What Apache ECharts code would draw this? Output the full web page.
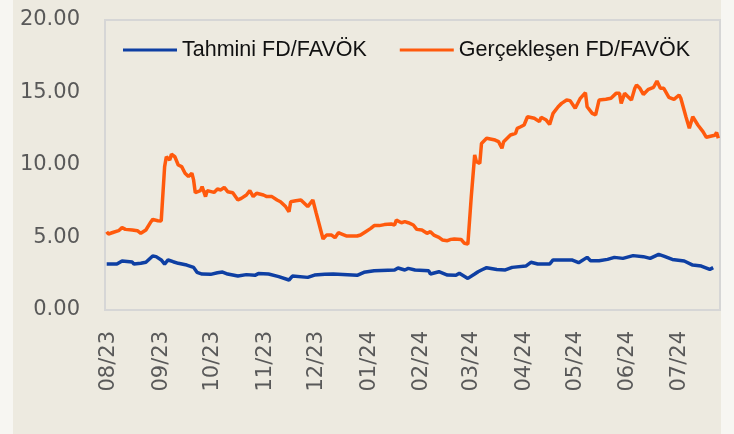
<!DOCTYPE html>
<html>
<head>
    <meta charset="utf-8">
    <script src="https://cdn.jsdelivr.net/npm/echarts@6/dist/echarts.min.js"></script>
    <style>
        html, body { margin: 0; padding: 0; background: #F7F6F2; }
    </style>
</head>
<body>
<div id="main" style="width: 734px;height:434px;"></div>
<script type="text/javascript">

// x tick labels (month/year)
var monthLabels = ['08/23','09/23','10/23','11/23','12/23','01/24','02/24','03/24','04/24','05/24','06/24','07/24'];

// days counted from 1 Aug 2023
var actualDays = [-1,0,3,6,8,10,14,17,19,22,25,26,29,31,33,34,36,37,39,41,43,45,47,49,50,51,54,55,57,58,62,64,66,68,70,73,76,78,81,83,85,87,91,93,96,99,101,104,106,107,110,113,115,117,118,120,121,122,126,128,129,131,133,135,137,140,146,148,151,154,156,159,162,166,168,169,172,174,176,179,181,184,187,189,191,194,196,199,201,203,207,209,211,213,215,216,218,219,222,227,229,231,232,236,239,240,242,244,246,247,250,253,254,257,259,261,264,266,269,271,274,277,280,281,284,286,288,292,295,298,300,301,303,305,307,309,310,312,314,317,320,322,324,326,329,332,335,336,339,341,343,346,349,351,354,356,357,358];
var actualValues = [5.40,5.24,5.36,5.47,5.68,5.56,5.52,5.47,5.29,5.52,6.09,6.25,6.16,6.14,9.89,10.57,10.34,10.74,10.57,10.00,9.89,9.43,9.20,9.43,8.97,8.09,8.23,8.51,7.82,8.23,8.11,8.34,8.28,8.46,8.16,8.09,7.59,7.70,7.93,8.23,7.82,8.05,7.93,7.82,7.82,7.59,7.47,7.13,6.78,7.47,7.54,7.59,7.36,7.13,7.01,7.59,7.63,6.67,4.90,5.17,5.06,5.17,4.99,5.33,5.24,5.10,5.10,5.17,5.40,5.63,5.82,5.82,5.89,5.93,5.86,6.20,6.02,6.09,6.02,5.86,5.56,5.52,5.29,5.40,5.17,5.01,4.83,4.78,4.87,4.90,4.87,4.60,4.55,7.82,10.69,10.23,10.11,11.49,11.84,11.72,11.61,11.15,11.61,12.07,12.18,12.53,12.64,12.76,13.33,13.45,13.22,12.99,13.29,13.10,12.80,13.56,14.02,14.25,14.48,14.44,13.91,14.60,14.99,14.02,13.56,13.45,14.48,14.53,14.60,14.94,14.94,14.25,14.94,14.71,14.48,15.29,15.52,15.29,14.87,15.22,15.36,15.79,15.29,15.29,14.67,14.53,14.83,14.60,13.33,12.53,13.33,12.76,12.30,11.91,12.00,12.05,12.25,11.84];

var estimateDays = [-1,5,8,14,15,19,22,26,28,31,33,35,38,41,46,50,52,55,60,64,67,70,76,81,86,88,94,100,106,108,117,121,127,132,146,150,156,168,170,174,176,180,188,189,194,199,204,206,211,215,217,219,222,228,233,237,245,248,252,259,261,272,276,281,283,288,293,297,302,308,314,318,323,326,331,338,343,348,353,355];
var estimateValues = [3.17,3.17,3.38,3.31,3.17,3.22,3.29,3.72,3.68,3.45,3.17,3.45,3.33,3.22,3.10,2.94,2.60,2.48,2.46,2.57,2.62,2.48,2.34,2.44,2.39,2.51,2.48,2.30,2.07,2.34,2.25,2.41,2.46,2.48,2.39,2.60,2.71,2.76,2.90,2.76,2.87,2.76,2.71,2.48,2.64,2.41,2.39,2.53,2.18,2.48,2.64,2.76,2.92,2.80,2.76,2.94,3.03,3.29,3.17,3.17,3.45,3.45,3.26,3.63,3.40,3.40,3.49,3.63,3.56,3.75,3.68,3.56,3.84,3.72,3.49,3.38,3.10,3.03,2.80,2.92];

function pairs(days, vals) {
    var out = [];
    for (var i = 0; i < days.length; i++) out.push([days[i], vals[i]]);
    return out;
}
// month starts as day offsets from 1 Aug 2023
var base = Date.UTC(2023, 7, 1);
var monthDays = monthLabels.map(function (s) {
    var t = Date.UTC(2000 + parseInt(s.slice(3), 10), parseInt(s.slice(0, 2), 10) - 1, 1);
    return Math.round((t - base) / 86400000);
});

var myChart = echarts.init(document.getElementById('main'));

var axisFont = { fontFamily: 'DejaVu Sans', fontSize: 21, color: '#595959' };

option = {
    backgroundColor: 'transparent',
    animation: false,
    graphic: [{
        type: 'rect', z: -10,
        shape: { x: 13, y: 0, width: 708, height: 434 },
        style: { fill: '#EDEAE0' }
    }],
    legend: {
        left: 118,
        top: 34,
        icon: 'rect',
        itemWidth: 54,
        itemHeight: 3,
        itemGap: 33,
        textStyle: { fontFamily: 'Liberation Sans', fontSize: 21.5, color: '#111111' },
        data: ['Tahmini FD/FAVÖK', 'Gerçekleşen FD/FAVÖK']
    },
    grid: {
        left: 105,
        right: 14,
        top: 20,
        bottom: 124,
        show: true,
        borderColor: '#D6D6D6',
        borderWidth: 2,
        backgroundColor: 'transparent'
    },
    xAxis: {
        type: 'value',
        min: -2,
        max: 359,
        axisLine: { show: false },
        axisTick: { show: false },
        splitLine: { show: false },
        axisLabel: Object.assign({
            rotate: 90,
            margin: 21,
            hideOverlap: false,
            showMinLabel: true,
            showMaxLabel: true,
            customValues: monthDays,
            formatter: function (v) {
                var i = monthDays.indexOf(Math.round(v));
                return i >= 0 ? monthLabels[i] : '';
            }
        }, axisFont)
    },
    yAxis: {
        type: 'value',
        min: 0,
        max: 20,
        interval: 5,
        axisLine: { show: false },
        axisTick: { show: false },
        splitLine: { show: false },
        axisLabel: Object.assign({
            margin: 25,
            formatter: function (v) { return v.toFixed(2); }
        }, axisFont)
    },
    series: [
        {
            name: 'Tahmini FD/FAVÖK',
            type: 'line',
            symbol: 'none',
            color: '#0E3FA3',
            lineStyle: { width: 3.5, color: '#0E3FA3' },
            data: pairs(estimateDays, estimateValues)
        },
        {
            name: 'Gerçekleşen FD/FAVÖK',
            type: 'line',
            symbol: 'none',
            color: '#FF5A0D',
            lineStyle: { width: 3.5, color: '#FF5A0D' },
            data: pairs(actualDays, actualValues)
        }
    ]
};

myChart.setOption(option);

</script>

</body>
</html>
